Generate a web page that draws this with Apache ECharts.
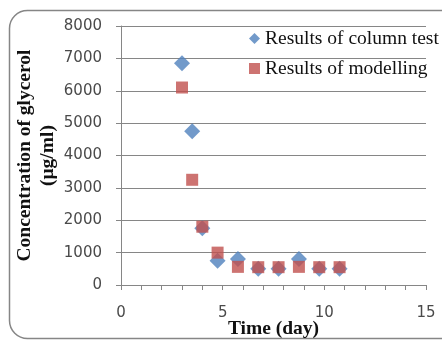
<!DOCTYPE html>
<html>
<head>
<meta charset="utf-8">
<script src="https://cdn.jsdelivr.net/npm/echarts@6/dist/echarts.min.js"></script>
<style>
  html, body { margin: 0; padding: 0; background: #fff; }
  #chart { width: 442px; height: 340px; }
</style>
</head>
<body>
<div id="chart"></div>
<script>
// Glycerol concentration over time: column test vs. model
const columnDays   = [3, 3.5, 4, 4.75, 5.75, 6.75, 7.75, 8.75, 9.75, 10.75];
const columnValues = [6850, 4750, 1750, 750, 800, 500, 500, 800, 500, 500];
const modelDays    = [3, 3.5, 4, 4.75, 5.75, 6.75, 7.75, 8.75, 9.75, 10.75];
const modelValues  = [6100, 3250, 1800, 1000, 560, 550, 550, 560, 550, 550];
const xTickLabels  = [0, 5, 10, 15];
const yTickLabels  = [0, 1000, 2000, 3000, 4000, 5000, 6000, 7000, 8000];

const pairs = (xs, ys) => xs.map((x, i) => [x, ys[i]]);

const serif = '"Liberation Serif", "Times New Roman", serif';
const sans = '"DejaVu Sans", sans-serif';
const axisGray = '#868686';

const chart = echarts.init(document.getElementById('chart'), null, { renderer: 'canvas' });

chart.setOption({
  animation: false,
  backgroundColor: '#fff',
  graphic: [{
    type: 'rect',
    shape: { x: 9.5, y: 10.5, width: 460, height: 328, r: 18 },
    style: { fill: 'none', stroke: axisGray, lineWidth: 1.5 },
    z: -1
  }],
  grid: { left: 121, right: 16, top: 26, bottom: 55, containLabel: false, outerBoundsMode: 'none' },
  legend: {
    orient: 'vertical',
    left: 244,
    top: 22,
    itemWidth: 11,
    itemHeight: 11,
    itemGap: 7,
    itemTextGap: 5,
    textStyle: { fontFamily: serif, fontSize: 19.5, color: '#111', lineHeight: 23 },
    data: [
      { name: 'Results of column test', icon: 'diamond' },
      { name: 'Results of modelling', icon: 'rect' }
    ]
  },
  xAxis: {
    type: 'value',
    min: xTickLabels[0],
    max: xTickLabels[xTickLabels.length - 1],
    interval: 1,
    name: 'Time (day)',
    nameLocation: 'middle',
    nameGap: 34,
    nameMoveOverlap: false,
    nameTextStyle: { fontFamily: serif, fontSize: 19.5, fontWeight: 'bold', color: '#111' },
    axisLine: { show: true, lineStyle: { color: axisGray, width: 1 } },
    axisTick: { show: true, length: 5, lineStyle: { color: axisGray } },
    axisLabel: {
      margin: 21,
      fontFamily: sans,
      fontSize: 15,
      color: '#4a4a4a',
      formatter: v => (xTickLabels.includes(v) ? String(v) : '')
    },
    splitLine: { show: false }
  },
  yAxis: {
    type: 'value',
    min: yTickLabels[0],
    max: yTickLabels[yTickLabels.length - 1],
    interval: 1000,
    name: 'Concentration of glycerol\n(μg/ml)',
    nameLocation: 'middle',
    nameRotate: 90,
    nameGap: 62,
    nameMoveOverlap: false,
    nameTextStyle: { fontFamily: serif, fontSize: 19.5, fontWeight: 'bold', color: '#111', lineHeight: 23 },
    axisLine: { show: true, lineStyle: { color: axisGray, width: 1 } },
    axisTick: { show: true, length: 5, lineStyle: { color: axisGray } },
    axisLabel: {
      margin: 19,
      fontFamily: sans,
      fontSize: 15,
      color: '#4a4a4a',
      formatter: v => String(v)
    },
    splitLine: { show: true, lineStyle: { color: axisGray, width: 1 } }
  },
  series: [
    {
      name: 'Results of column test',
      type: 'scatter',
      symbol: 'diamond',
      symbolSize: 16,
      itemStyle: { color: '#4F81BD' },
      data: pairs(columnDays, columnValues)
    },
    {
      name: 'Results of modelling',
      type: 'scatter',
      symbol: 'rect',
      symbolSize: 12,
      itemStyle: { color: '#C0504D' },
      data: pairs(modelDays, modelValues)
    }
  ]
});
</script>
</body>
</html>
